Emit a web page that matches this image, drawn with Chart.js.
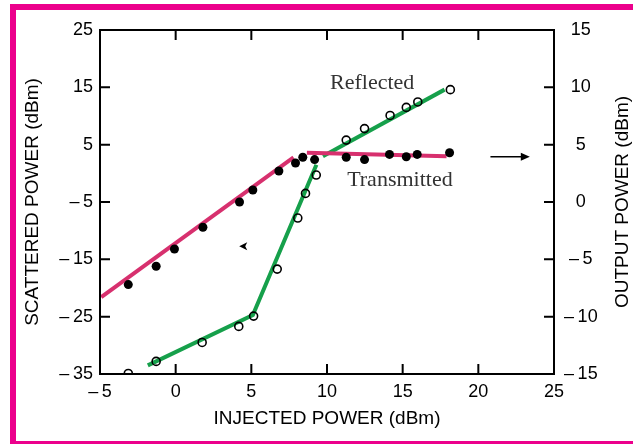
<!DOCTYPE html>
<html>
<head>
<meta charset="utf-8">
<script src="https://cdn.jsdelivr.net/npm/chart.js@4/dist/chart.umd.min.js"></script>
<style>
  html, body { margin: 0; padding: 0; width: 633px; height: 444px; overflow: hidden; background: #fff; }
  #frame { position: absolute; left: 10px; top: 4px; width: 640px; height: 443px; box-sizing: border-box; border: 6px solid #ec008c; }
  #wrap { position: absolute; left: 0; top: 0; width: 633px; height: 444px; }
</style>
</head>
<body>
<div id="frame"></div>
<div id="wrap"><canvas id="chart"></canvas></div>
<script>
// Transmitted (output power, right axis) - filled dots
const txInjected = [-3.13, -1.29, -0.08, 1.8, 4.22, 5.1, 6.82, 7.92, 8.4, 9.18, 11.27, 12.48, 14.13, 15.24, 15.96, 18.1];
const txOutput   = [-7.2, -5.6, -4.1, -2.2, 0.0, 1.05, 2.7, 3.4, 3.9, 3.7, 3.9, 3.7, 4.15, 3.95, 4.15, 4.3];

// Reflected (scattered power, left axis) - open circles
const rfInjected  = [-3.13, -1.29, 1.75, 4.17, 5.15, 6.71, 8.07, 8.58, 9.29, 11.27, 12.48, 14.17, 15.24, 16.0, 18.15];
const rfScattered = [-34.9, -32.8, -29.5, -26.7, -24.9, -16.7, -7.8, -3.5, -0.3, 5.8, 7.8, 10.1, 11.5, 12.45, 14.6];

// Fitted lines
const txFitRiseX = [-4.92, 7.79];
const txFitRiseY = [-8.3, 3.9];
const txFitFlatX = [8.67, 17.9];
const txFitFlatY = [4.3, 4.0];
const rfFitLowX  = [-1.84, 5.1, 9.3];
const rfFitLowY  = [-33.5, -24.7, 1.5];
const rfFitHighX = [9.73, 17.77];
const rfFitHighY = [3.0, 14.6];

// Axis ranges
const xRange  = [-5, 25];
const yRange  = [-35, 25];
const y2Range = [-15, 15];

const PINK = '#d7306e';
const GREEN = '#16a04b';
const SANS = '"Liberation Sans", Arial, sans-serif';
const SERIF = '"Liberation Serif", "Times New Roman", serif';

const pts = (xs, ys) => xs.map((x, i) => ({ x: x, y: ys[i] }));

function tickText(v) {
    return v < 0 ? '\u2013\u2009' + Math.abs(v) : String(v);
}

// Box around the plot with inward tick marks, right axis title, labels and arrows
const framePlugin = {
    id: 'framePlugin',
    afterDraw(chart) {
        const { ctx, chartArea: a, scales } = chart;
        const len = 10;
        ctx.save();
        ctx.strokeStyle = '#000';
        ctx.lineWidth = 2;
        ctx.strokeRect(a.left, a.top, a.right - a.left, a.bottom - a.top);
        ctx.beginPath();
        scales.x.ticks.forEach(t => {
            const px = scales.x.getPixelForValue(t.value);
            if (px <= a.left + 1 || px >= a.right - 1) return;
            ctx.moveTo(px, a.bottom); ctx.lineTo(px, a.bottom - len);
            ctx.moveTo(px, a.top); ctx.lineTo(px, a.top + len);
        });
        scales.y.ticks.forEach(t => {
            const py = scales.y.getPixelForValue(t.value);
            if (py <= a.top + 1 || py >= a.bottom - 1) return;
            ctx.moveTo(a.left, py); ctx.lineTo(a.left + len, py);
        });
        scales.y2.ticks.forEach(t => {
            const py = scales.y2.getPixelForValue(t.value);
            if (py <= a.top + 1 || py >= a.bottom - 1) return;
            ctx.moveTo(a.right, py); ctx.lineTo(a.right - len, py);
        });
        ctx.stroke();

        // right axis title, reading upward like the left one
        ctx.fillStyle = '#000';
        ctx.font = '19px ' + SANS;
        ctx.textAlign = 'center';
        ctx.textBaseline = 'middle';
        ctx.translate(623, (a.top + a.bottom) / 2);
        ctx.rotate(-Math.PI / 2);
        ctx.fillText('OUTPUT POWER (dBm)', 0, 0);
        ctx.setTransform(1, 0, 0, 1, 0, 0);

        // curve labels
        ctx.fillStyle = '#333';
        ctx.font = '22px ' + SERIF;
        ctx.textAlign = 'left';
        ctx.fillText('Reflected', scales.x.getPixelForValue(10.2), scales.y.getPixelForValue(15.75));
        ctx.fillText('Transmitted', scales.x.getPixelForValue(11.33), scales.y.getPixelForValue(-1.2));

        // arrow to the right axis
        ctx.fillStyle = '#000';
        ctx.lineWidth = 1.5;
        const ax0 = scales.x.getPixelForValue(20.8), ax1 = scales.x.getPixelForValue(23.4);
        const ay = scales.y2.getPixelForValue(3.95);
        ctx.beginPath();
        ctx.moveTo(ax0, ay); ctx.lineTo(ax1 - 6, ay);
        ctx.stroke();
        ctx.beginPath();
        ctx.moveTo(ax1, ay); ctx.lineTo(ax1 - 9, ay - 4); ctx.lineTo(ax1 - 9, ay + 4);
        ctx.closePath(); ctx.fill();

        // arrowhead toward the left axis
        const bx = scales.x.getPixelForValue(4.2), by = scales.y.getPixelForValue(-12.7);
        ctx.beginPath();
        ctx.moveTo(bx, by); ctx.lineTo(bx + 8, by - 4); ctx.lineTo(bx + 6, by); ctx.lineTo(bx + 8, by + 4);
        ctx.closePath(); ctx.fill();
        ctx.restore();
    }
};

const tickFont = { family: SANS, size: 18 };
const titleFont = { family: SANS, size: 19 };

const ctx = document.getElementById('chart').getContext('2d');
new Chart(ctx, {
    type: 'scatter',
    data: {
        datasets: [
            { data: pts(txInjected, txOutput), yAxisID: 'y2', pointRadius: 4.5, pointBackgroundColor: '#000', pointBorderWidth: 0, order: 1 },
            { data: pts(rfInjected, rfScattered), yAxisID: 'y', pointRadius: 4, pointBackgroundColor: 'rgba(0,0,0,0)', pointBorderColor: '#000', pointBorderWidth: 1.6, order: 1 },
            { data: pts(txFitRiseX, txFitRiseY), yAxisID: 'y2', showLine: true, borderColor: PINK, borderWidth: 4, pointRadius: 0, order: 2 },
            { data: pts(txFitFlatX, txFitFlatY), yAxisID: 'y2', showLine: true, borderColor: PINK, borderWidth: 4, pointRadius: 0, order: 2 },
            { data: pts(rfFitLowX, rfFitLowY), yAxisID: 'y', showLine: true, borderColor: GREEN, borderWidth: 4, pointRadius: 0, order: 2 },
            { data: pts(rfFitHighX, rfFitHighY), yAxisID: 'y', showLine: true, borderColor: GREEN, borderWidth: 4, pointRadius: 0, order: 2 }
        ]
    },
    options: {
        responsive: true,
        maintainAspectRatio: false,
        animation: false,
        devicePixelRatio: 1,
        layout: { padding: { top: 30, left: 0, right: 0, bottom: 0 } },
        plugins: { legend: { display: false }, tooltip: { enabled: false } },
        scales: {
            x: {
                type: 'linear', position: 'bottom', min: xRange[0], max: xRange[1],
                grid: { display: false, drawTicks: false }, border: { display: false },
                ticks: { stepSize: 5, padding: 7, color: '#000', font: tickFont, callback: tickText },
                title: { display: true, text: 'INJECTED POWER (dBm)', color: '#000', font: titleFont, padding: { bottom: 14 } },
                afterFit: s => { s.height = 70; }
            },
            y: {
                type: 'linear', position: 'left', min: yRange[0], max: yRange[1],
                grid: { display: false, drawTicks: false }, border: { display: false },
                ticks: { stepSize: 10, padding: 7, color: '#000', font: tickFont, callback: tickText },
                title: { display: true, text: 'SCATTERED POWER (dBm)', color: '#000', font: titleFont, padding: { top: 21 } },
                afterFit: s => { s.width = 100; }
            },
            y2: {
                type: 'linear', position: 'right', min: y2Range[0], max: y2Range[1],
                grid: { display: false, drawTicks: false }, border: { display: false },
                ticks: { stepSize: 5, padding: 10, crossAlign: 'center', color: '#000', font: tickFont, callback: tickText },
                afterFit: s => { s.width = 79; }
            }
        }
    },
    plugins: [framePlugin]
});
</script>
</body>
</html>
